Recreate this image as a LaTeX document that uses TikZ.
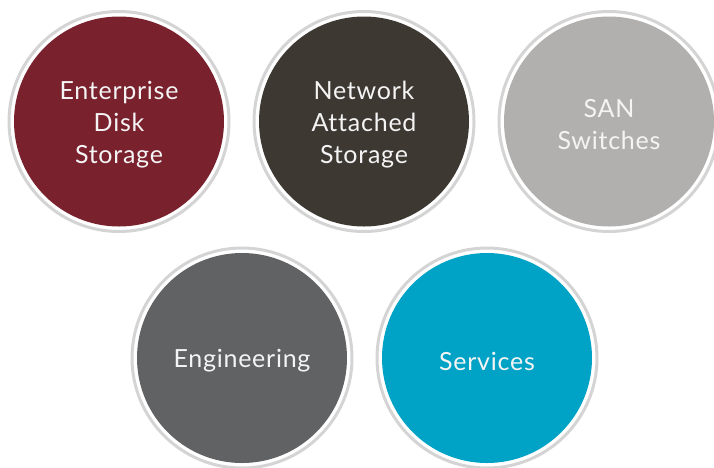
\documentclass[tikz,border=0pt]{standalone}
\usepackage{fontspec}
\setmainfont{Lato}[Ligatures=NoCommon, LetterSpace=3]
\definecolor{cmaroon}{HTML}{7A212E}
\definecolor{cdark}{HTML}{3E3833}
\definecolor{clight}{HTML}{B1B0AF}
\definecolor{cgray}{HTML}{616264}
\definecolor{cblue}{HTML}{00A3C6}
\definecolor{cring}{HTML}{D4D4D4}
\definecolor{ctext}{HTML}{F4F4F4}
\tikzset{
  ball/.style={circle, minimum size=210pt, inner sep=0pt},
  lbl/.style={inner sep=0pt, text=ctext, align=center,
    font=\fontsize{25}{32}\selectfont},
  ring/.style={draw=cring, line width=3pt}
}
\begin{document}
\begin{tikzpicture}[x=1pt,y=-1pt]
\useasboundingbox (0,0) rectangle (714,467);
\node[ball, fill=cmaroon] (eds) at (119,121.5) {};
\node[ball, fill=cdark] (nas) at (364,121.5) {};
\node[ball, fill=clight] (san) at (609,121.5) {};
\node[ball, fill=cgray] (eng) at (242,358) {};
\node[ball, fill=cblue] (srv) at (487,358) {};
\foreach \n in {eds,nas,san,eng,srv}
  \draw[ring] (\n.center) circle (110);
\node[lbl] (edst) at ([yshift=-3pt]eds.center) {Enterprise\\Disk\\Storage};
\node[lbl] (nast) at ([yshift=-3pt]nas.center) {Network\\Attached\\Storage};
\node[lbl] (sant) at ([yshift=-3pt]san.center) {SAN\\Switches};
\node[lbl] (engt) at ([yshift=-3pt]eng.center) {Engineering};
\node[lbl] (srvt) at ([yshift=-3pt]srv.center) {Services};
\end{tikzpicture}
\end{document}
